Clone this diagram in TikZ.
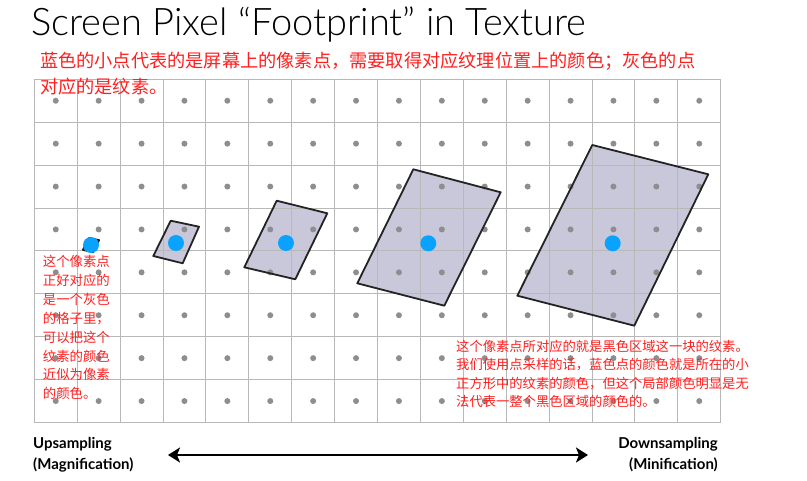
\documentclass[tikz,border=0pt]{standalone}
\usepackage{fontspec}
\setmainfont{Lato}
\newfontfamily\cjk{Noto Sans CJK SC}
\newfontfamily\titlefont{Lato Light}
\usetikzlibrary{arrows.meta,positioning}
\definecolor{notered}{HTML}{FF1F1F}
\definecolor{pixblue}{HTML}{0AA2FF}
\definecolor{texdot}{HTML}{8E8E8E}
\definecolor{gridgrey}{HTML}{B8B8B8}
\definecolor{fpfill}{HTML}{C8C8DA}
\definecolor{fpedge}{HTML}{232323}
\newcommand{\GridLeft}{34.3}
\newcommand{\GridTop}{79.3}
\newcommand{\Cell}{42.9}

\begin{document}
\begin{tikzpicture}[x=1pt,y=-1pt,
  gridline/.style={draw=gridgrey,line width=0.9pt},
  texel/.style={fill=texdot},
  pixel/.style={circle,fill=pixblue,inner sep=0pt,minimum size=16pt},
  footprint/.style={draw=fpedge,line width=1.8pt,line join=round},
  note/.style={text=notered,inner sep=0pt,align=left},
  axislab/.style={font=\fontsize{15}{21}\selectfont\bfseries,inner sep=0pt},
  axisarrow/.style={line width=2.6pt,{Stealth[length=12pt,width=15pt,inset=3pt]}-{Stealth[length=12pt,width=15pt,inset=3pt]}}]
\useasboundingbox (0,0) rectangle (807,481);
\foreach \k/\a/\b/\c/\d in {
    a/{89,238}/{99.1,240.1}/{93.2,252.3}/{82.9,249.9},
    b/{170.7,220.7}/{199,226.7}/{182.7,263.3}/{153.3,256},
    c/{276.7,200.7}/{327.3,213.3}/{295.3,279.3}/{244.3,267.3},
    d/{413.3,169.3}/{500.7,192.3}/{444.3,305.7}/{357.3,283.3},
    e/{592.3,145}/{708.3,174.3}/{634.3,325.7}/{517.3,295.7}} {
  \coordinate (\k-nw) at (\a);
  \coordinate (\k-ne) at (\b);
  \coordinate (\k-se) at (\c);
  \coordinate (\k-sw) at (\d);
  \fill[fpfill] (\k-nw) -- (\k-ne) -- (\k-se) -- (\k-sw) -- cycle;
}
\foreach \i in {0,...,16}
  \draw[gridline] ({\GridLeft+\Cell*\i},\GridTop) -- ({\GridLeft+\Cell*\i},{\GridTop+8*\Cell});
\foreach \j in {0,...,8}
  \draw[gridline] (\GridLeft,{\GridTop+\Cell*\j}) -- ({\GridLeft+16*\Cell},{\GridTop+\Cell*\j});
\foreach \i in {0,...,15}
  \foreach \j in {0,...,7}
    \fill[texel] ({\GridLeft+\Cell*(\i+0.5)},{\GridTop+\Cell*(\j+0.5)}) circle[radius=3pt];
\foreach \k in {a,...,e}
  \draw[footprint] (\k-nw) -- (\k-ne) -- (\k-se) -- (\k-sw) -- cycle;
\foreach \k/\p in {a/{91,245},b/{176,243},c/{286,243},d/{428.3,243.3},e/{612.7,243.3}}
  \node[pixel] (pix-\k) at (\p) {};

\node[anchor=base west,inner sep=0pt,font=\titlefont\fontsize{38}{42}\selectfont] (title)
  at (31,36) {Screen Pixel “Footprint” in Texture};
\node[note,anchor=north west,font=\cjk\fontsize{18.2}{26}\selectfont] (topnote) at (40,51.5)
  {蓝色的小点代表的是屏幕上的像素点，需要取得对应纹理位置上的颜色；灰色的点\\对应的是纹素。};
\node[note,anchor=north west,font=\cjk\fontsize{13.4}{18.9}\selectfont] (upnote) at (42.7,255)
  {这个像素点\\正好对应的\\是一个灰色\\的格子里，\\可以把这个\\纹素的颜色\\近似为像素\\的颜色。};
\node[note,anchor=north west,font=\cjk\fontsize{13.3}{18.33}\selectfont] (downnote) at (456,340)
  {这个像素点所对应的就是黑色区域这一块的纹素。\\我们使用点采样的话，蓝色点的颜色就是所在的小\\
   正方形中的纹素的颜色，但这个局部颜色明显是无\\法代表一整个黑色区域的颜色的。};

\node[axislab,align=left,anchor=north west] (upsamp) at (33,437) {Upsampling\\(Magnification)};
\node[axislab,align=right,anchor=north east] (downsamp) at (718,437) {Downsampling\\(Minification)};
\coordinate (zoom-l) at (168,455);
\coordinate (zoom-r) at (588,455);
\draw[axisarrow] (zoom-l) -- (zoom-r);
\end{tikzpicture}
\end{document}
